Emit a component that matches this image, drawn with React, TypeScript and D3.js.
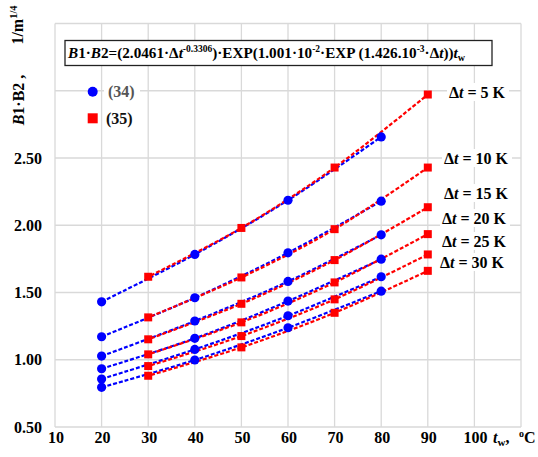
import React from "react";
import * as d3 from "d3";

const deltaTs = [5, 10, 15, 20, 25, 30];
const twBlue = [20, 40, 60, 80];
const twRed = [30, 50, 70, 90];
// (34) values, one row per Δt
const blue5 = [1.431, 1.783, 2.186, 2.657];
const blue10 = [1.171, 1.461, 1.795, 2.179];
const blue15 = [1.027, 1.288, 1.582, 1.929];
const blue20 = [0.933, 1.159, 1.436, 1.748];
const blue25 = [0.857, 1.077, 1.327, 1.617];
const blue30 = [0.795, 0.998, 1.238, 1.51];
// (35) values
const red5 = [1.617, 1.98, 2.429, 2.972];
const red10 = [1.315, 1.612, 1.971, 2.429];
const red15 = [1.152, 1.416, 1.741, 2.134];
const red20 = [1.04, 1.278, 1.575, 1.934];
const red25 = [0.953, 1.176, 1.449, 1.783];
const red30 = [0.881, 1.092, 1.349, 1.661];
const blueSeries = [blue5, blue10, blue15, blue20, blue25, blue30];
const redSeries = [red5, red10, red15, red20, red25, red30];
const xTicks = [10, 20, 30, 40, 50, 60, 70, 80, 90, 100, 110];
const yGrid = [0.5, 1.0, 1.5, 2.0, 2.5, 3.0, 3.5];
const yLabels = [0.5, 1.0, 1.5, 2.0, 2.5];
const labelPos: [number, number][] = [
  [449, 92],
  [444, 158],
  [444, 193],
  [442, 218],
  [442, 241],
  [440, 262],
];

const FONT = "'Liberation Serif', 'Times New Roman', 'DejaVu Serif', serif";
const BLUE = "#0000FF";
const RED = "#FF0000";

export default function App() {
  const x = d3.scaleLinear().domain([10, 110]).range([55, 521]);
  const y = d3.scaleLinear().domain([0.5, 3.5]).range([427, 23.5]);
  const line = d3
    .line<[number, number]>()
    .x((d) => x(d[0]))
    .y((d) => y(d[1]))
    .curve(d3.curveCatmullRom.alpha(0.5));

  return (
    <svg
      width={538}
      height={457}
      style={{ position: "absolute", left: 0, top: 0, background: "#fff", fontFamily: FONT, fontWeight: "bold" }}
    >
      <rect x={0} y={0} width={538} height={457} fill="#fff" />
      {/* grid */}
      {xTicks.map((t) => (
        <line key={"gx" + t} x1={x(t)} x2={x(t)} y1={y(3.5)} y2={y(0.5)} stroke="#d9d9d9" strokeWidth={1.3} />
      ))}
      {yGrid.map((t) => (
        <line key={"gy" + t} x1={x(10)} x2={x(110)} y1={y(t)} y2={y(t)} stroke="#d9d9d9" strokeWidth={1.3} />
      ))}
      {/* y tick labels */}
      {yLabels.map((t) => (
        <text key={"yl" + t} x={42} y={y(t) + 5.5} textAnchor="end" fontSize={16}>
          {d3.format(".2f")(t)}
        </text>
      ))}
      {/* x tick labels */}
      {xTicks.slice(0, 10).map((t) => (
        <text key={"xl" + t} x={x(t) + 1} y={443} textAnchor="middle" fontSize={16}>
          {t}
        </text>
      ))}
      <text x={493} y={443} fontSize={16}>
        <tspan fontStyle="italic">t</tspan>
        <tspan fontSize={11} dy={3}>w</tspan>
        <tspan dy={-3}>,</tspan>
      </text>
      <text x={519} y={443} fontSize={16}>
        <tspan fontSize={10} dy={-6}>o</tspan>
        <tspan dy={6}>C</tspan>
      </text>
      {/* y axis title */}
      <text transform="translate(24,100) rotate(-90)" textAnchor="middle" fontSize={16}>
        <tspan fontStyle="italic">B</tspan>1·B2 ,
      </text>
      <text transform="translate(23,25) rotate(-90)" textAnchor="middle" fontSize={16}>
        1/m<tspan fontSize={10.5} dy={-6}>1/4</tspan>
      </text>
      {/* series lines */}
      {blueSeries.map((s, i) => (
        <path
          key={"bl" + i}
          d={line(s.map((v, j) => [twBlue[j], v]))!}
          fill="none"
          stroke={BLUE}
          strokeWidth={2.2}
          strokeDasharray="4,2"
        />
      ))}
      {redSeries.map((s, i) => (
        <path
          key={"rl" + i}
          d={line(s.map((v, j) => [twRed[j], v]))!}
          fill="none"
          stroke={RED}
          strokeWidth={2.2}
          strokeDasharray="4,2"
          strokeDashoffset={3}
        />
      ))}
      {blueSeries.map((s, i) =>
        s.map((v, j) => <circle key={`bc${i}-${j}`} cx={x(twBlue[j])} cy={y(v)} r={4.6} fill={BLUE} />)
      )}
      {redSeries.map((s, i) =>
        s.map((v, j) => (
          <rect key={`rs${i}-${j}`} x={x(twRed[j]) - 4} y={y(v) - 4} width={8} height={8} fill={RED} />
        ))
      )}
      {/* title box */}
      <rect x={65} y={40.5} width={427} height={25} fill="#fff" stroke="#222" strokeWidth={1.3} />
      <text x={68} y={58} fontSize={15.2}>
        <tspan fontStyle="italic">B</tspan>
        <tspan>1·</tspan>
        <tspan fontStyle="italic">B</tspan>
        <tspan>2=(2.0461·Δ</tspan>
        <tspan fontStyle="italic">t</tspan>
        <tspan fontSize={9.5} dy={-6}>-0.3306</tspan>
        <tspan dy={6}>)·EXP(1.001·10</tspan>
        <tspan fontSize={9.5} dy={-6}>-2</tspan>
        <tspan dy={6}>·EXP (1.426.10</tspan>
        <tspan fontSize={9.5} dy={-6}>-3</tspan>
        <tspan dy={6}>·Δ</tspan>
        <tspan fontStyle="italic">t</tspan>
        <tspan>))</tspan>
        <tspan fontStyle="italic">t</tspan>
        <tspan fontSize={10} dy={3}>w</tspan>
      </text>
      {/* legend */}
      <circle cx={92.7} cy={91.7} r={5} fill={BLUE} />
      <rect x={104} y={82} width={36} height={18} fill="#fff" />
      <text x={108} y={97} fontSize={16} fill="#555">(34)</text>
      <rect x={87.7} y={113.3} width={10} height={10} fill={RED} />
      <text x={106} y={124} fontSize={16} fill="#111">(35)</text>
      {/* Δt labels */}
      {deltaTs.map((dt, i) => (
        <g key={"lab" + dt}>
          <rect x={labelPos[i][0] - 2} y={labelPos[i][1] - 9} width={dt < 10 ? 62 : 70} height={18} fill="#fff" />
          <text x={labelPos[i][0]} y={labelPos[i][1] + 5.5} fontSize={16}>
            Δ<tspan fontStyle="italic">t</tspan> = {dt} K
          </text>
        </g>
      ))}
    </svg>
  );
}
